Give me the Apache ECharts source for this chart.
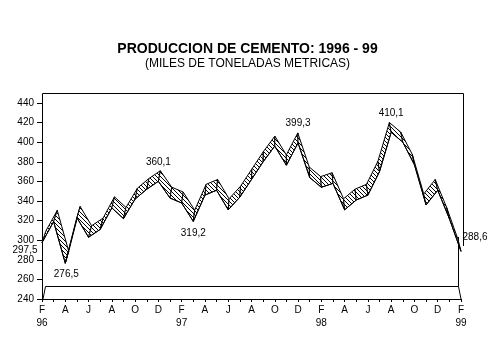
<!DOCTYPE html>
<html><head><meta charset="utf-8">
<script src="https://cdn.jsdelivr.net/npm/echarts@6/dist/echarts.min.js"></script>
<style>html,body{margin:0;padding:0;background:#fff}#c{width:495px;height:355px}</style>
</head><body><div id="c"></div>
<script>
// ---- data ----
const monthLabels = ['F\n96','M','A','M','J','J','A','S','O','N','D','E',
  'F\n97','M','A','M','J','J','A','S','O','N','D','E',
  'F\n98','M','A','M','J','J','A','S','O','N','D','E','F\n99'];
const production = [297.5,319,276.5,323,303,311,333,322,342,352,360.1,343,
  338,319.2,346,351,331,344,362,380,396,376.5,399.3,364,
  354,358,331,341,346,370,410.1,400,377,336,351,322,288.6];
const labeledPoints = [0,2,10,13,22,30,36];
const titleText = 'PRODUCCION DE CEMENTO: 1996 - 99';
const subtitleText = '(MILES DE TONELADAS METRICAS)';
const yMin = 240, yMax = 440, yStep = 20;

// ---- style / layout ----
const FONT = 'Liberation Sans, Arial, sans-serif';
const W = 495, H = 355;
const GRID = {left: 42, right: 34, top: 103, bottom: 56};
const DEPTH_K = 0.016;
const VANISH = [GRID.left + 0.568 * (W - GRID.left - GRID.right), -479];

const tile = document.createElement('canvas');
tile.width = 4; tile.height = 4;
const tctx = tile.getContext('2d');
tctx.fillStyle = '#fff'; tctx.fillRect(0, 0, 4, 4);
tctx.fillStyle = '#000';
for (let k = 0; k < 4; k++) tctx.fillRect(k, k, 1, 1);
const hatch = {image: tile, repeat: 'repeat'};

const labelPlacement = {
  0:  {position: 'left', distance: 4, offset: [0, 8]},
  2:  {position: 'bottom', distance: 6, offset: [1, 0]},
  10: {position: 'top', distance: 14},
  13: {position: 'bottom', distance: 6},
  22: {position: 'top', distance: 14},
  30: {position: 'top', distance: 14},
  36: {position: 'right', distance: 1, offset: [0, -14]}
};
function fmt(v) { return v.toFixed(1).replace('.', ','); }

const segments = production.slice(0, -1).map((v, i) => [i, v, production[i + 1]]);

function back(p) {
  return [p[0] + DEPTH_K * (VANISH[0] - p[0]), p[1] + DEPTH_K * (VANISH[1] - p[1])];
}

const gx0 = GRID.left, gx1 = W - GRID.right, gy0 = GRID.top, gy1 = H - GRID.bottom;
function seg(x1, y1, x2, y2) {
  return {type: 'line', shape: {x1: x1, y1: y1, x2: x2, y2: y2},
    style: {stroke: '#000', lineWidth: 1}, silent: true, z: 1};
}
const topY = gy0 - 9.5, floorY = gy1 - 12.5;
const frame = [
  seg(gx0 + 0.5, topY, gx1 + 2.5, topY),
  seg(gx0 + 0.5, topY, gx0 + 0.5, gy0),
  seg(gx1 + 2.5, topY, gx1 + 2.5, gy1 - 53),
  seg(gx1 - 2.5, gy1 - 62, gx1 - 2.5, floorY),
  seg(gx0 + 3.5, floorY, gx1 - 2.5, floorY),
  seg(gx0 + 3.5, floorY, gx0 + 1, gy1),
  seg(gx1 - 2.5, floorY, gx1, gy1)
];

const chart = echarts.init(document.getElementById('c'), null, {renderer: 'canvas'});
chart.setOption({
  animation: false,
  backgroundColor: '#fff',
  title: [
    {text: titleText, left: 'center', top: 37,
      textStyle: {fontFamily: FONT, fontSize: 14, fontWeight: 'bold', color: '#000'}},
    {text: subtitleText, left: 'center', top: 53,
      textStyle: {fontFamily: FONT, fontSize: 12, fontWeight: 'normal', color: '#000'}}
  ],
  grid: {left: GRID.left, right: GRID.right, top: GRID.top, bottom: GRID.bottom, containLabel: false},
  xAxis: {
    type: 'category', data: monthLabels, boundaryGap: false,
    axisLine: {lineStyle: {color: '#000', width: 1}},
    axisTick: {show: true, interval: 0, length: 3, lineStyle: {color: '#000'}},
    axisLabel: {interval: 1, color: '#000', fontFamily: FONT, fontSize: 10, lineHeight: 13, margin: 5},
    splitLine: {show: false}
  },
  yAxis: {
    type: 'value', min: yMin, max: yMax, interval: yStep,
    axisLine: {show: true, lineStyle: {color: '#000', width: 1}},
    axisTick: {show: true, length: 5, lineStyle: {color: '#000'}},
    axisLabel: {color: '#000', fontFamily: FONT, fontSize: 10, margin: 8},
    splitLine: {show: false}
  },
  graphic: frame,
  series: [
    {
      type: 'custom', name: 'ribbon', data: segments, clip: false,
      encode: {x: 0, y: [1, 2]}, z: 2,
      renderItem: function (params, api) {
        const i = api.value(0);
        const p0 = api.coord([i, api.value(1)]);
        const p1 = api.coord([i + 1, api.value(2)]);
        return {type: 'polygon',
          shape: {points: [p0, p1, back(p1), back(p0)]},
          style: {fill: hatch, stroke: '#000', lineWidth: 1}};
      }
    },
    {
      type: 'line', name: 'produccion', z: 3,
      data: production.map((v, i) => {
        const item = {value: v};
        if (labeledPoints.indexOf(i) >= 0) {
          item.label = Object.assign({show: true, formatter: p => fmt(p.value),
            color: '#000', fontFamily: FONT, fontSize: 10}, labelPlacement[i] || {});
        }
        return item;
      }),
      symbol: 'circle', symbolSize: 1, showSymbol: true,
      itemStyle: {color: 'rgba(0,0,0,0)'},
      lineStyle: {color: '#000', width: 1},
      label: {show: false}
    }
  ]
});
</script></body></html>
